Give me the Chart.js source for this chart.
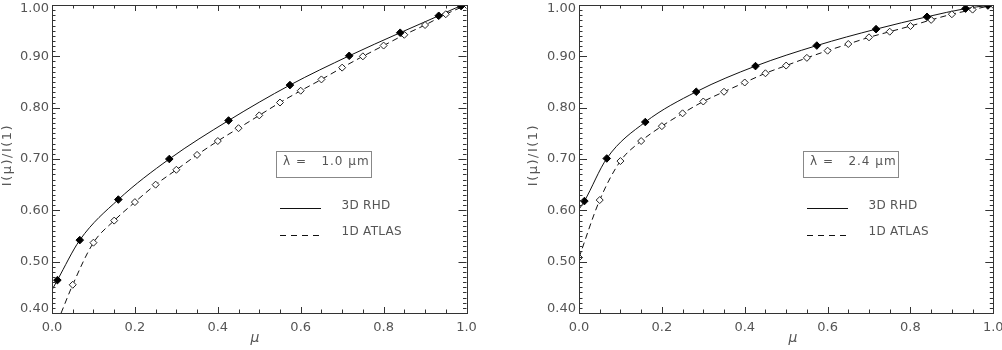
<!DOCTYPE html>
<html>
<head>
<meta charset="utf-8">
<script src="https://cdn.jsdelivr.net/npm/chart.js@4.4.1/dist/chart.umd.min.js"></script>
<style>
  body { margin: 0; background: #fff; }
  #wrap { position: relative; width: 1002px; height: 350px; }
  canvas { position: absolute; top: 0; }
</style>
</head>
<body>
<div id="wrap">
  <canvas id="c1" width="500" height="350" style="left:0"></canvas>
  <canvas id="c2" width="502" height="350" style="left:500px"></canvas>
</div>
<script>
// mu points of the 3D RHD model (filled diamonds)
const muRhd = [0.013, 0.067, 0.160, 0.283, 0.426, 0.574, 0.717, 0.840, 0.933, 0.987];
const rhd10 = [0.464, 0.542, 0.621, 0.700, 0.775, 0.844, 0.901, 0.946, 0.979, 0.998];
const rhd24 = [0.618, 0.701, 0.772, 0.831, 0.881, 0.921, 0.953, 0.977, 0.993, 0.999];

// mu points of the 1D ATLAS model (open diamonds)
const muAtlas10 = [0.05, 0.10, 0.15, 0.20, 0.25, 0.30, 0.35, 0.40, 0.45, 0.50, 0.55, 0.60, 0.65, 0.70, 0.75, 0.80, 0.85, 0.90, 0.95, 1.00];
const atlas10 = [0.455, 0.537, 0.580, 0.616, 0.650, 0.679, 0.708, 0.735, 0.760, 0.785, 0.810, 0.833, 0.855, 0.878, 0.900, 0.921, 0.942, 0.961, 0.982, 1.000];
const muAtlas24 = [0.00, 0.05, 0.10, 0.15, 0.20, 0.25, 0.30, 0.35, 0.40, 0.45, 0.50, 0.55, 0.60, 0.65, 0.70, 0.75, 0.80, 0.85, 0.90, 0.95, 1.00];
const atlas24 = [0.508, 0.620, 0.696, 0.735, 0.764, 0.789, 0.812, 0.831, 0.849, 0.867, 0.882, 0.897, 0.911, 0.924, 0.937, 0.948, 0.959, 0.971, 0.982, 0.991, 1.000];

// where the curves meet the plot edges
const rhdEnds10 = [[0.0, 0.445], [1.0, 1.0]];
const rhdEnds24 = [[0.0, 0.602], [1.0, 1.0]];
const atlasStart10 = [0.022, 0.400];

const xTickVals = [0, 0.2, 0.4, 0.6, 0.8, 1.0];
const xTickLabels = ['0.0', '0.2', '0.4', '0.6', '0.8', '1.0'];
const yTickVals = [0.4, 0.5, 0.6, 0.7, 0.8, 0.9, 1.0];
const yTickLabels = ['0.40', '0.50', '0.60', '0.70', '0.80', '0.90', '1.00'];

const FONT = '"DejaVu Sans", sans-serif';
const TXT = '#555';

function pts(xs, ys) {
    return xs.map((v, i) => ({ x: v, y: ys[i] }));
}

const framePlugin = {
    id: 'frame',
    afterDatasetsDraw(chart, args, o) {
        const ctx = chart.ctx;
        const a = chart.chartArea;
        const sx = chart.scales.x, sy = chart.scales.y;
        ctx.save();
        ctx.strokeStyle = '#333';
        ctx.lineWidth = 1;
        ctx.strokeRect(Math.round(a.left) + 0.5, Math.round(a.top) + 0.5, Math.round(a.right - a.left), Math.round(a.bottom - a.top));

        // x ticks, inward on bottom and top
        ctx.beginPath();
        for (let i = 0; i <= 20; i++) {
            const px = Math.round(sx.getPixelForValue(i * 0.05)) + 0.5;
            const len = (i % 4 === 0) ? 6 : 3.5;
            ctx.moveTo(px, a.bottom); ctx.lineTo(px, a.bottom - len);
            ctx.moveTo(px, a.top); ctx.lineTo(px, a.top + len);
        }
        // y ticks, inward on left and right
        for (let i = 0; i <= 60; i++) {
            const py = Math.round(sy.getPixelForValue(0.4 + i * 0.01)) + 0.5;
            const len = (i % 10 === 0) ? 8 : 3.5;
            ctx.moveTo(a.left, py); ctx.lineTo(a.left + len, py);
            ctx.moveTo(a.right, py); ctx.lineTo(a.right - len, py);
        }
        ctx.stroke();

        // tick labels
        ctx.fillStyle = TXT;
        ctx.font = '13px ' + FONT;
        ctx.textAlign = 'center';
        ctx.textBaseline = 'middle';
        xTickVals.forEach((v, i) => {
            ctx.fillText(xTickLabels[i], sx.getPixelForValue(v), 328);
        });
        ctx.textAlign = 'right';
        yTickVals.forEach((v, i) => {
            let py = sy.getPixelForValue(v);
            py = Math.min(Math.max(py, a.top + 4), a.bottom - 4);
            ctx.fillText(yTickLabels[i], a.left - 3, py);
        });

        // axis titles
        ctx.textAlign = 'center';
        ctx.font = 'italic 14px ' + FONT;
        ctx.fillText('\u03bc', o.xTitleX, 338);
        ctx.save();
        ctx.translate(o.yTitleX, (a.top + a.bottom) / 2 - 4);
        ctx.rotate(-Math.PI / 2);
        ctx.font = '13px ' + FONT;
        ctx.letterSpacing = '1.5px';
        ctx.fillText('I(\u03bc)/I(1)', 0, 0);
        ctx.restore();

        // legend
        const L = a.left;
        ctx.strokeStyle = '#888';
        ctx.strokeRect(L + 224.5, 151.5, 95, 26);
        ctx.font = '12px ' + FONT;
        ctx.textAlign = 'left';
        ctx.letterSpacing = '1px';
        ctx.fillText('\u03bb =   ' + o.wave + ' \u03bcm', L + 231, 162);
        ctx.letterSpacing = '0.3px';
        ctx.fillText('3D RHD', L + 289.5, 206);
        ctx.fillText('1D ATLAS', L + 289.5, 232);
        ctx.letterSpacing = '0px';
        ctx.strokeStyle = '#111';
        ctx.beginPath();
        ctx.moveTo(L + 228, 208.5); ctx.lineTo(L + 269, 208.5);
        ctx.stroke();
        ctx.setLineDash([6, 5]);
        ctx.beginPath();
        ctx.moveTo(L + 228, 235.5); ctx.lineTo(L + 269, 235.5);
        ctx.stroke();
        ctx.restore();
    }
};

function makeChart(id, rhdY, rhdEnds, atlasMu, atlasY, atlasStart, pad, opts) {
    const rhdLine = [{ x: rhdEnds[0][0], y: rhdEnds[0][1] }].concat(pts(muRhd, rhdY), [{ x: rhdEnds[1][0], y: rhdEnds[1][1] }]);
    let atlasLine = pts(atlasMu, atlasY);
    if (atlasStart) atlasLine = [{ x: atlasStart[0], y: atlasStart[1] }].concat(atlasLine);

    return new Chart(document.getElementById(id), {
        type: 'scatter',
        data: {
            datasets: [
                {
                    data: pts(muRhd, rhdY),
                    pointStyle: 'rectRot', pointRadius: 3.8,
                    backgroundColor: '#000', borderColor: '#000', borderWidth: 1
                },
                {
                    data: pts(atlasMu, atlasY),
                    pointStyle: 'rectRot', pointRadius: 3.5,
                    backgroundColor: '#fff', borderColor: '#222', borderWidth: 1
                },
                {
                    data: rhdLine, showLine: true, pointRadius: 0,
                    borderColor: '#111', borderWidth: 1, cubicInterpolationMode: 'monotone'
                },
                {
                    data: atlasLine, showLine: true, pointRadius: 0,
                    borderColor: '#111', borderWidth: 1, borderDash: [6, 4], cubicInterpolationMode: 'monotone'
                }
            ]
        },
        options: {
            responsive: false,
            animation: false,
            devicePixelRatio: 1,
            layout: { padding: pad },
            scales: {
                x: { type: 'linear', min: 0, max: 1, display: false },
                y: { type: 'linear', min: 0.4, max: 1.0, display: false }
            },
            plugins: {
                legend: { display: false },
                tooltip: { enabled: false },
                frame: opts
            }
        },
        plugins: [framePlugin]
    });
}

makeChart('c1', rhd10, rhdEnds10, muAtlas10, atlas10, atlasStart10,
    { left: 52, right: 33.5, top: 1.5, bottom: 37 },
    { wave: '1.0', xTitleX: 255, yTitleX: 8 });

makeChart('c2', rhd24, rhdEnds24, muAtlas24, atlas24, null,
    { left: 79, right: 8.7, top: 1.5, bottom: 37 },
    { wave: '2.4', xTitleX: 293, yTitleX: 34 });
</script>
</body>
</html>
